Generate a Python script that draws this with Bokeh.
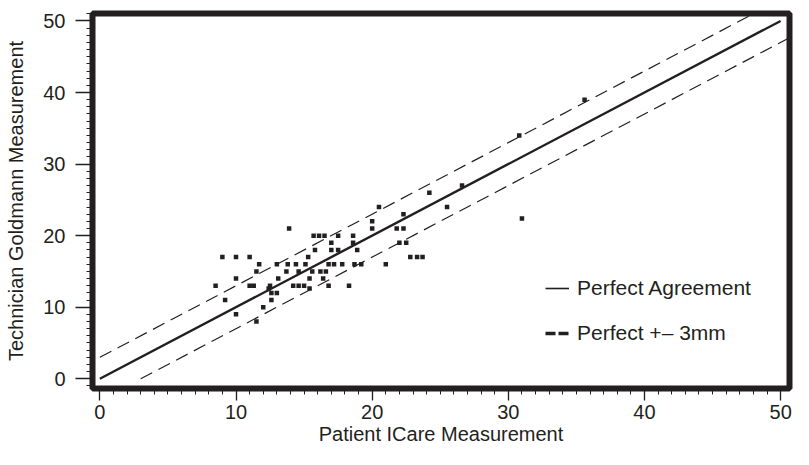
from bokeh.plotting import figure
from bokeh.models import Range1d, SingleIntervalTicker, Legend, LegendItem, ColumnDataSource
from bokeh.embed import file_html
from bokeh.resources import INLINE

# ---- data ----
icare_x = [9, 10, 11, 11.7, 11.5, 10, 8.5, 11, 11.3, 12.5, 13.1, 13.7, 12.6, 13, 12.6,
           9.2, 12, 10, 11.5, 13, 12.4,
           24.2, 25.5, 20.5, 22.3, 20, 20, 21.8, 22.3, 13.9, 15.7, 16.1, 16.5, 17.5, 18.6,
           17, 18.6, 22, 22.5, 15.8, 17, 17.5, 18.9, 15.3, 22.8, 23.3, 23.7, 21,
           13.8, 14.4, 15.1, 16.8, 17.2, 17.8, 18.7, 19.2, 14.6, 15.6, 16.2, 16.6,
           15.4, 16.4, 18.3, 14.2, 14.6, 15, 15.4, 16.8,
           26.6, 30.8, 35.6, 31]
goldmann_y = [17, 17, 17, 16, 15, 14, 13, 13, 13, 13, 14, 15, 12, 12, 11,
              11, 10, 9, 8, 16, 12.6,
              26, 24, 24, 23, 22, 21, 21, 21, 21, 20, 20, 20, 20, 20,
              19, 19, 19, 19, 18, 18, 18, 18, 17, 17, 17, 17, 16,
              16, 16, 16, 16, 16, 16, 16, 16, 15, 15, 15, 15,
              14, 14, 13, 13, 13, 13, 12.6, 13,
              27, 34, 39, 22.4]

agree_x = [0, 50]
agree_y = [0, 50]
tolerance = 3
upper_x = [0, 50]
upper_y = [v + tolerance for v in upper_x]
lower_x = [tolerance, 51]
lower_y = [v - tolerance for v in lower_x]

tick_interval = 10
legend_labels = ["Perfect Agreement", "Perfect +\u2013 3mm"]
x_title = "Patient ICare Measurement"
y_title = "Technician Goldmann Measurement"

INK = "#231f20"
FONT = "Liberation Sans"
NAN = float("nan")

p = figure(width=793, height=449,
           x_range=Range1d(-0.54, 50.65), y_range=Range1d(-1.36, 51.04),
           output_backend="svg", toolbar_location=None,
           min_border_left=92, min_border_right=4, min_border_top=13, min_border_bottom=61)

p.outline_line_color = INK
p.outline_line_width = 6
p.outline_line_alpha = 1.0
p.xgrid.visible = False
p.ygrid.visible = False
p.background_fill_color = "white"

for ax in (p.xaxis[0], p.yaxis[0]):
    ax.ticker = SingleIntervalTicker(interval=tick_interval, num_minor_ticks=10)
    ax.axis_line_color = None
    ax.major_tick_line_color = INK
    ax.major_tick_line_width = 1.3
    ax.minor_tick_line_color = INK
    ax.minor_tick_line_width = 1
    ax.major_tick_in = 0
    ax.minor_tick_in = 0
    ax.minor_tick_out = 6
    ax.major_label_text_font = FONT
    ax.major_label_text_font_size = "20px"
    ax.major_label_text_color = INK
    ax.axis_label_text_font = FONT
    ax.axis_label_text_font_size = "20px"
    ax.axis_label_text_font_style = "normal"
    ax.axis_label_text_color = INK

p.xaxis.axis_label = x_title
p.yaxis.axis_label = y_title
p.xaxis.major_tick_out = 12
p.xaxis.major_label_standoff = 4
p.xaxis.axis_label_standoff = 1
p.yaxis.major_tick_out = 17
p.yaxis.major_label_standoff = 10
p.yaxis.axis_label_standoff = 13

p.line(agree_x, agree_y, line_color=INK, line_width=2.4)
p.line(upper_x, upper_y, line_color=INK, line_width=1.2, line_dash="13 7")
p.line(lower_x, lower_y, line_color=INK, line_width=1.2, line_dash="13 7")

src = ColumnDataSource(dict(x=icare_x, y=goldmann_y))
p.scatter("x", "y", source=src, marker="square", size=4.5, fill_color=INK, line_color=None)

leg_solid = p.line([NAN], [NAN], line_color=INK, line_width=1.6)
leg_dash = p.line([NAN], [NAN], line_color=INK, line_width=3.5, line_dash="10 3")
legend = Legend(items=[LegendItem(label=legend_labels[0], renderers=[leg_solid]),
                       LegendItem(label=legend_labels[1], renderers=[leg_dash])],
                location=(453, 43), glyph_width=24, glyph_height=22, label_height=22,
                spacing=21, padding=0, margin=0, border_line_color=None,
                background_fill_alpha=0, label_text_font=FONT, label_text_font_size="21px",
                label_text_color=INK, label_standoff=8)
p.add_layout(legend)

open("out.html", "w").write(file_html(p, INLINE))
